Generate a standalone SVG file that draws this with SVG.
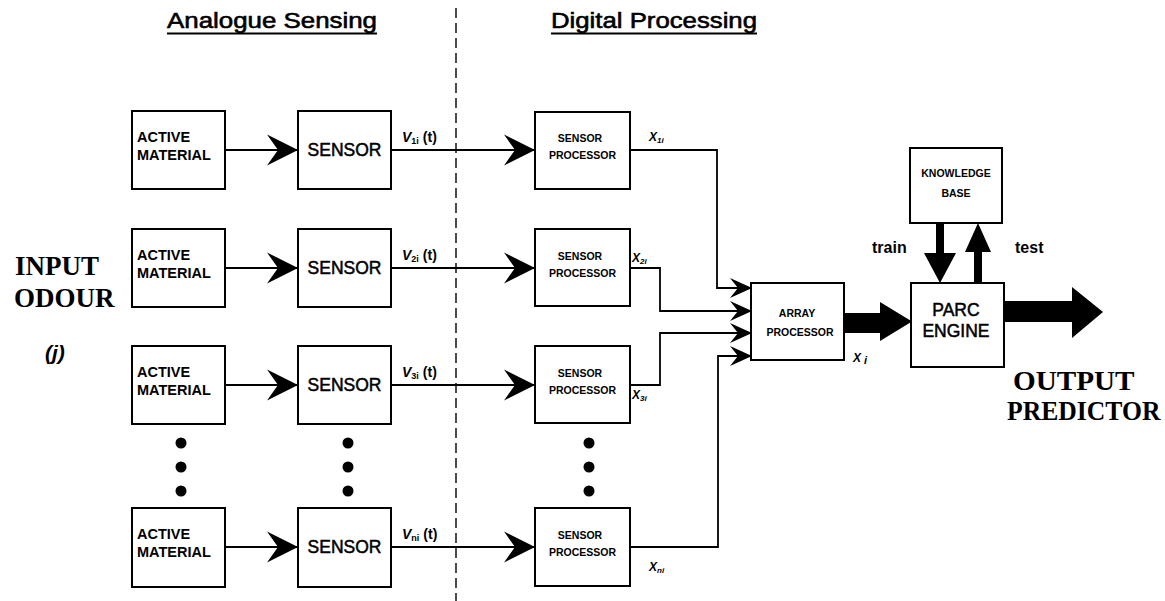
<svg xmlns="http://www.w3.org/2000/svg" width="1165" height="601" viewBox="0 0 1165 601">
  <style>
    .box{fill:#fff;stroke:#000;stroke-width:2}
    .ln{fill:none;stroke:#000;stroke-width:1.8}
    .big{fill:#000;stroke:none}
    .hdr{font-family:"Liberation Sans",Arial,sans-serif;font-size:22px;fill:#000;stroke:#000;stroke-width:0.6}
    .am{font-family:"Liberation Sans",Arial,sans-serif;font-weight:bold;font-size:14.5px;fill:#000}
    .sn{font-family:"Liberation Sans",Arial,sans-serif;font-size:17.5px;fill:#000;stroke:#000;stroke-width:0.5;text-anchor:middle}
    .sp{font-family:"Liberation Sans",Arial,sans-serif;font-weight:bold;font-size:10.5px;fill:#000;text-anchor:middle}
    .vl{font-family:"Liberation Sans",Arial,sans-serif;font-weight:bold;font-size:14px;fill:#000}
    .xl{font-family:"Liberation Sans",Arial,sans-serif;font-weight:bold;font-style:italic;font-size:12px;fill:#000}
    .ttl{font-family:"Liberation Serif","Times New Roman",serif;font-weight:bold;font-size:27px;fill:#000}
    .tr{font-family:"Liberation Sans",Arial,sans-serif;font-weight:bold;font-size:16px;fill:#000}
  </style>
  <defs>
    <marker id="barb" markerUnits="userSpaceOnUse" markerWidth="32" markerHeight="34" viewBox="-31 -16 32 32" refX="0" refY="0" orient="auto">
      <path d="M0,0 L-31,-15.5 L-20,0 L-31,15.5 Z" fill="#000"/>
    </marker>
    <marker id="chev" markerUnits="userSpaceOnUse" markerWidth="24" markerHeight="24" viewBox="-23 -11 24 22" refX="0" refY="0" orient="auto">
      <path d="M0,0 L-22,-10 L-14,0 L-22,10 Z" fill="#000"/>
    </marker>
  </defs>

  <!-- section headings and divider -->
  <g id="headings">
    <text class="hdr" x="167" y="28" textLength="210" lengthAdjust="spacingAndGlyphs">Analogue Sensing</text>
    <line x1="167" y1="33.5" x2="377" y2="33.5" stroke="#000" stroke-width="2"/>
    <text class="hdr" x="551" y="28" textLength="206" lengthAdjust="spacingAndGlyphs">Digital Processing</text>
    <line x1="551" y1="33.5" x2="757" y2="33.5" stroke="#000" stroke-width="2"/>
    <line x1="456" y1="8" x2="456" y2="601" stroke="#000" stroke-width="1.4" stroke-dasharray="10,5"/>
  </g>

  <!-- side titles -->
  <g id="input-odour">
    <text class="ttl" x="15" y="275">INPUT</text>
    <text class="ttl" x="14" y="307">ODOUR</text>
    <text x="45" y="360" font-family="Liberation Sans, Arial, sans-serif" font-weight="bold" font-style="italic" font-size="21">(j)</text>
  </g>
  <g id="output-predictor">
    <text class="ttl" font-size="31" transform="matrix(1.08,0,0,1,1013,390)">OUTPUT</text>
    <text class="ttl" font-size="30" transform="matrix(0.95,0,0,1,1007,420)">PREDICTOR</text>
  </g>

  <!-- connectors -->
  <g id="connectors">
    <!-- active material to sensor -->
    <path class="ln" d="M225,150 H298" marker-end="url(#barb)"/>
    <path class="ln" d="M225,268 H298" marker-end="url(#barb)"/>
    <path class="ln" d="M225,385 H298" marker-end="url(#barb)"/>
    <path class="ln" d="M225,547 H298" marker-end="url(#barb)"/>
    <!-- sensor to sensor processor -->
    <path class="ln" d="M391,150 H535" marker-end="url(#barb)"/>
    <path class="ln" d="M391,268 H535" marker-end="url(#barb)"/>
    <path class="ln" d="M391,385 H535" marker-end="url(#barb)"/>
    <path class="ln" d="M391,547 H535" marker-end="url(#barb)"/>
    <!-- sensor processors to array processor -->
    <path class="ln" d="M630,150 H717 V288 H752" marker-end="url(#chev)"/>
    <path class="ln" d="M630,268 H660 V311 H752" marker-end="url(#chev)"/>
    <path class="ln" d="M630,385 H660 V333 H752" marker-end="url(#chev)"/>
    <path class="ln" d="M630,547 H718 V356 H752" marker-end="url(#chev)"/>
    <!-- array processor to PARC engine -->
    <path class="big" d="M844,313 H880 V302 L912,321.5 L880,341 V333 H844 Z"/>
    <!-- knowledge base exchange -->
    <path class="big" d="M936,223 H944 V253 H956 L940,283 L924,253 H936 Z"/>
    <path class="big" d="M974,283 H982 V252 H991 L978,223 L965,252 H974 Z"/>
    <!-- output -->
    <path class="big" d="M1004,301 H1072 V287 L1103,312 L1072,338 V322 H1004 Z"/>
  </g>

  <!-- signal labels -->
  <g id="labels">
    <text class="vl" x="402" y="142"><tspan font-style="italic">V</tspan><tspan font-size="9" dy="2">1i</tspan><tspan dy="-2" dx="4">(t)</tspan></text>
    <text class="vl" x="402" y="260"><tspan font-style="italic">V</tspan><tspan font-size="9" dy="2">2i</tspan><tspan dy="-2" dx="4">(t)</tspan></text>
    <text class="vl" x="402" y="377"><tspan font-style="italic">V</tspan><tspan font-size="9" dy="2">3i</tspan><tspan dy="-2" dx="4">(t)</tspan></text>
    <text class="vl" x="402" y="539"><tspan font-style="italic">V</tspan><tspan font-size="9" dy="2">ni</tspan><tspan dy="-2" dx="4">(t)</tspan></text>
    <text class="xl" x="649" y="141">X<tspan font-size="8" dy="2">1i</tspan></text>
    <text class="xl" x="632" y="262">X<tspan font-size="8" dy="2">2i</tspan></text>
    <text class="xl" x="632" y="399">X<tspan font-size="8" dy="2">3i</tspan></text>
    <text class="xl" x="649" y="571">X<tspan font-size="8" dy="2">ni</tspan></text>
    <text class="xl" x="853" y="362" font-size="18">X<tspan font-size="11" dy="2" dx="3">i</tspan></text>
    <text class="tr" x="872" y="253">train</text>
    <text class="tr" x="1015" y="253">test</text>
  </g>

  <!-- row 1 -->
  <g id="active-material-1"><rect class="box" x="132" y="111" width="93" height="78"/><text class="am" x="137" y="142">ACTIVE</text><text class="am" x="137" y="160">MATERIAL</text></g>
  <g id="sensor-1"><rect class="box" x="298" y="111" width="93" height="78"/><text class="sn" x="344.5" y="156">SENSOR</text></g>
  <g id="sensor-processor-1"><rect class="box" x="535" y="112" width="95" height="77"/><text class="sp" x="580" y="142">SENSOR</text><text class="sp" x="582.5" y="159">PROCESSOR</text></g>

  <!-- row 2 -->
  <g id="active-material-2"><rect class="box" x="132" y="229" width="93" height="78"/><text class="am" x="137" y="260">ACTIVE</text><text class="am" x="137" y="278">MATERIAL</text></g>
  <g id="sensor-2"><rect class="box" x="298" y="229" width="93" height="78"/><text class="sn" x="344.5" y="274">SENSOR</text></g>
  <g id="sensor-processor-2"><rect class="box" x="535" y="229" width="95" height="77"/><text class="sp" x="580" y="260">SENSOR</text><text class="sp" x="582.5" y="277">PROCESSOR</text></g>

  <!-- row 3 -->
  <g id="active-material-3"><rect class="box" x="132" y="346" width="93" height="78"/><text class="am" x="137" y="377">ACTIVE</text><text class="am" x="137" y="395">MATERIAL</text></g>
  <g id="sensor-3"><rect class="box" x="298" y="346" width="93" height="78"/><text class="sn" x="344.5" y="391">SENSOR</text></g>
  <g id="sensor-processor-3"><rect class="box" x="535" y="346" width="95" height="77"/><text class="sp" x="580" y="377">SENSOR</text><text class="sp" x="582.5" y="394">PROCESSOR</text></g>

  <!-- continuation dots -->
  <g id="ellipsis">
    <circle cx="181" cy="443" r="5.5"/><circle cx="181" cy="467" r="5.5"/><circle cx="181" cy="491" r="5.5"/>
    <circle cx="348" cy="443" r="5.5"/><circle cx="348" cy="467" r="5.5"/><circle cx="348" cy="491" r="5.5"/>
    <circle cx="589" cy="443" r="5.5"/><circle cx="589" cy="467" r="5.5"/><circle cx="589" cy="491" r="5.5"/>
  </g>

  <!-- row n -->
  <g id="active-material-n"><rect class="box" x="132" y="508" width="93" height="79"/><text class="am" x="137" y="539">ACTIVE</text><text class="am" x="137" y="557">MATERIAL</text></g>
  <g id="sensor-n"><rect class="box" x="298" y="508" width="93" height="79"/><text class="sn" x="344.5" y="553">SENSOR</text></g>
  <g id="sensor-processor-n"><rect class="box" x="535" y="508" width="95" height="78"/><text class="sp" x="580" y="539">SENSOR</text><text class="sp" x="582.5" y="556">PROCESSOR</text></g>

  <!-- array processor -->
  <g id="array-processor"><rect class="box" x="751" y="283" width="93" height="77"/><text class="sp" x="797" y="317">ARRAY</text><text class="sp" x="800" y="336">PROCESSOR</text></g>

  <!-- knowledge base -->
  <g id="knowledge-base"><rect class="box" x="910" y="148" width="92" height="75"/><text class="sp" x="956" y="177" font-size="9">KNOWLEDGE</text><text class="sp" x="956" y="197" font-size="9">BASE</text></g>

  <!-- PARC engine -->
  <g id="parc-engine"><rect class="box" x="911" y="283" width="93" height="84"/><text class="sn" x="956" y="316" font-size="16">PARC</text><text class="sn" x="956" y="337" font-size="16">ENGINE</text></g>
</svg>
